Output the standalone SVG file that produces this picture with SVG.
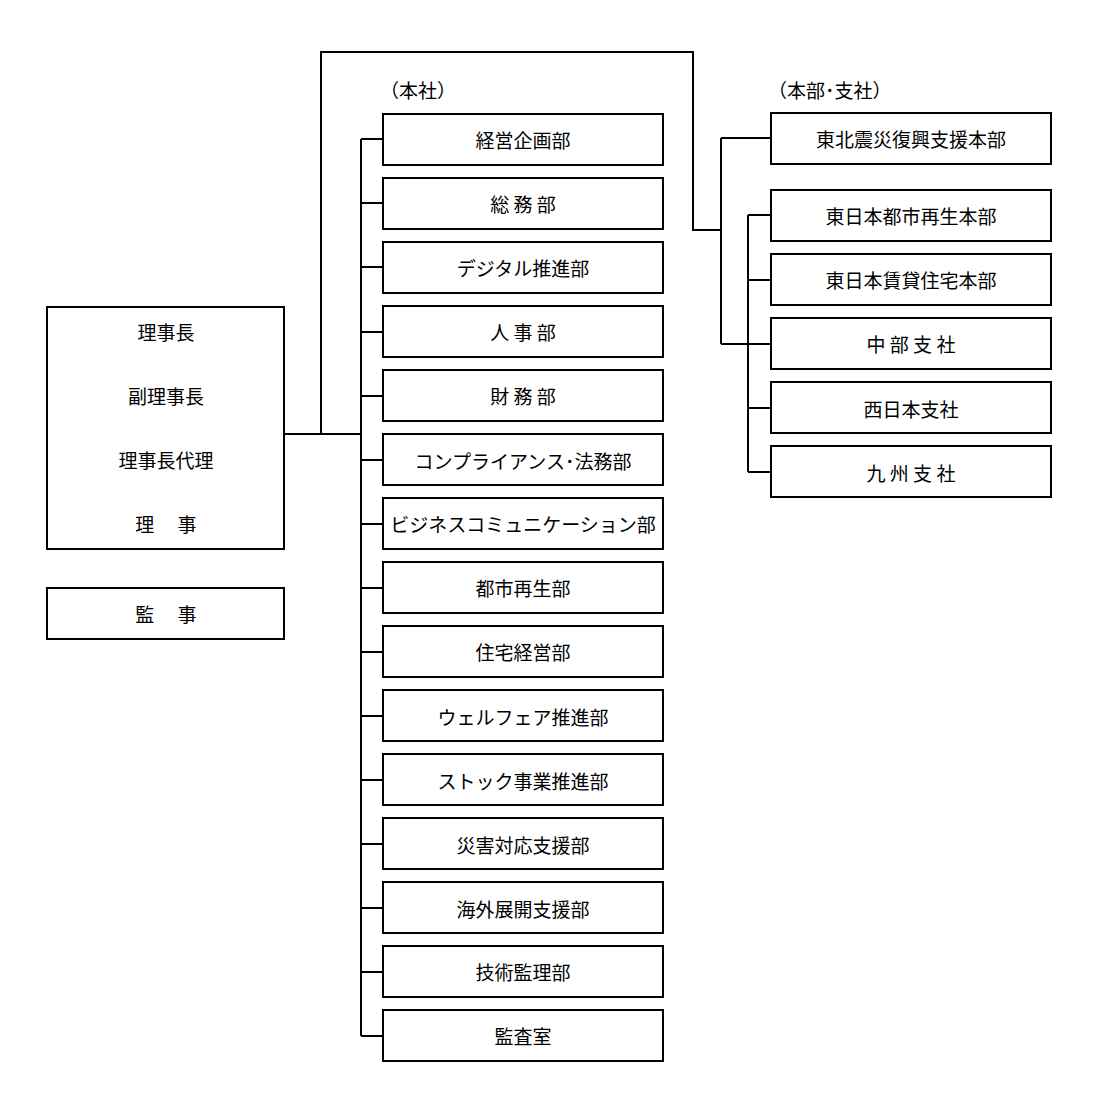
<svg xmlns="http://www.w3.org/2000/svg" width="1097" height="1095" viewBox="0 0 1097 1095">
<style>
rect{fill:#fff;stroke:#000;stroke-width:2}
text{font-family:"Noto Sans CJK JP",sans-serif;font-size:19px;text-anchor:middle;dominant-baseline:central;fill:#000}
.c path{fill:none;stroke:#000;stroke-width:2}
.l{text-anchor:start}
</style>
<rect width="1097" height="1095" style="stroke:none"/>
<g class="c">
<path d="M284 434H361M321 434V52H693V230H721M721 138V344M721 138H771M721 344H771M748 215V472M748 215H771M748 280H771M748 408H771M748 472H771"/>
<path d="M361 139V1036M361 139H383M361 203H383M361 267H383M361 332H383M361 396H383M361 460H383M361 524H383M361 588H383M361 652H383M361 716H383M361 780H383M361 844H383M361 908H383M361 972H383M361 1036H383"/>
</g>
<text class="l" x="380" y="89">（本社）</text>
<text class="l" x="768" y="89">（本部･支社）</text>
<g id="exec"><rect x="47" y="307" width="237" height="242"/><text x="166" y="331">理事長</text><text x="166" y="395">副理事長</text><text x="166" y="459">理事長代理</text><text x="166" y="523">理　 事</text></g>
<g id="audit"><rect x="47" y="588" width="237" height="51"/><text x="166" y="613">監　 事</text></g>
<g id="h1"><rect x="383" y="114" width="280" height="51"/><text x="523" y="139">経営企画部</text></g>
<g id="h2"><rect x="383" y="178" width="280" height="51"/><text x="523" y="203">総 務 部</text></g>
<g id="h3"><rect x="383" y="242" width="280" height="51"/><text x="523" y="267">デジタル推進部</text></g>
<g id="h4"><rect x="383" y="306" width="280" height="51"/><text x="523" y="331">人 事 部</text></g>
<g id="h5"><rect x="383" y="370" width="280" height="51"/><text x="523" y="395">財 務 部</text></g>
<g id="h6"><rect x="383" y="434" width="280" height="51"/><text x="523" y="460">コンプライアンス･法務部</text></g>
<g id="h7"><rect x="383" y="498" width="280" height="51"/><text x="523" y="523">ビジネスコミュニケーション部</text></g>
<g id="h8"><rect x="383" y="562" width="280" height="51"/><text x="523" y="587">都市再生部</text></g>
<g id="h9"><rect x="383" y="626" width="280" height="51"/><text x="523" y="651">住宅経営部</text></g>
<g id="h10"><rect x="383" y="690" width="280" height="51"/><text x="523" y="716">ウェルフェア推進部</text></g>
<g id="h11"><rect x="383" y="754" width="280" height="51"/><text x="523" y="780">ストック事業推進部</text></g>
<g id="h12"><rect x="383" y="818" width="280" height="51"/><text x="523" y="844">災害対応支援部</text></g>
<g id="h13"><rect x="383" y="882" width="280" height="51"/><text x="523" y="908">海外展開支援部</text></g>
<g id="h14"><rect x="383" y="946" width="280" height="51"/><text x="523" y="971">技術監理部</text></g>
<g id="h15"><rect x="383" y="1010" width="280" height="51"/><text x="523" y="1035">監査室</text></g>
<g id="b1"><rect x="771" y="113" width="280" height="51"/><text x="911" y="138">東北震災復興支援本部</text></g>
<g id="b2"><rect x="771" y="190" width="280" height="51"/><text x="911" y="215">東日本都市再生本部</text></g>
<g id="b3"><rect x="771" y="254" width="280" height="51"/><text x="911" y="279">東日本賃貸住宅本部</text></g>
<g id="b4"><rect x="771" y="318" width="280" height="51"/><text x="911" y="343">中 部 支 社</text></g>
<g id="b5"><rect x="771" y="382" width="280" height="51"/><text x="911" y="408">西日本支社</text></g>
<g id="b6"><rect x="771" y="446" width="280" height="51"/><text x="911" y="472">九 州 支 社</text></g>
</svg>
